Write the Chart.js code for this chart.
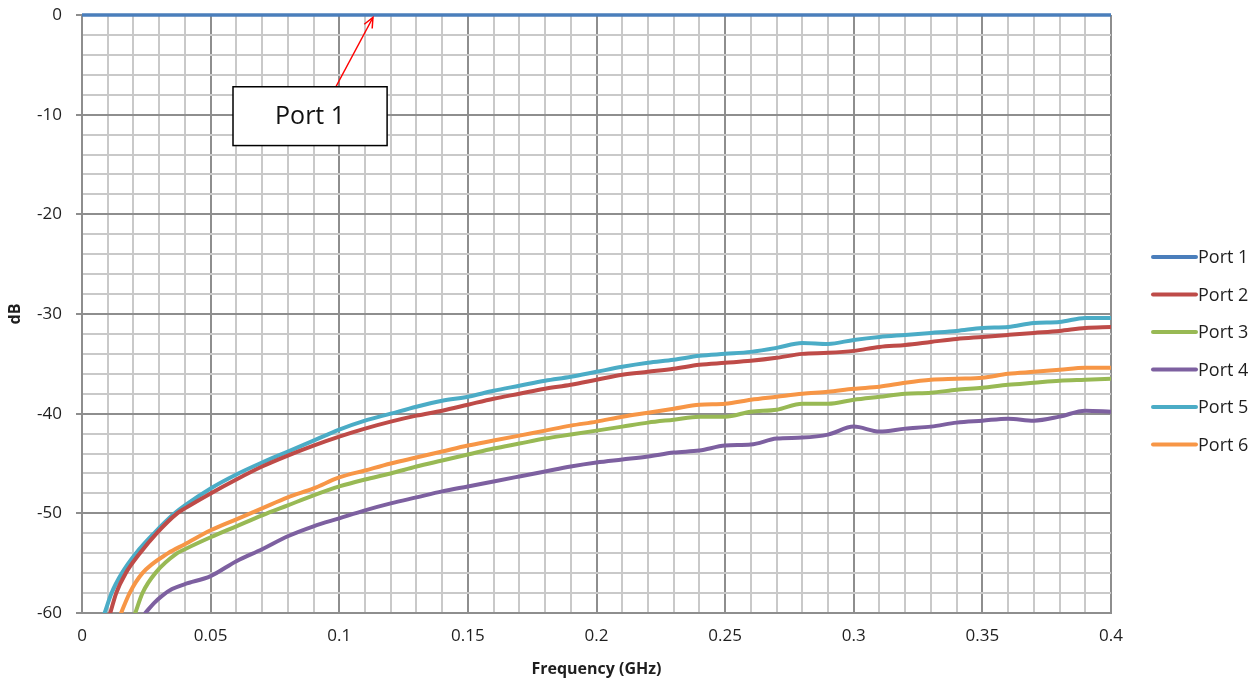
<!DOCTYPE html>
<html>
<head>
<meta charset="utf-8">
<script src="https://cdn.jsdelivr.net/npm/chart.js@4.4.1/dist/chart.umd.min.js"></script>
<style>
html,body{margin:0;padding:0;background:#ffffff;}
#wrap{width:1254px;height:682px;position:relative;}
</style>
</head>
<body>
<div id="wrap"><canvas id="c" width="1254" height="682"></canvas></div>
<script>
// ---------------- DATA ----------------
const seriesNames  = ['Port 1', 'Port 2', 'Port 3', 'Port 4', 'Port 5', 'Port 6'];
const seriesColors = ['#4A7EBB', '#BE4B48', '#98B954', '#7D60A0', '#4BACC6', '#F79646'];

// shared frequency grid (GHz) from 0.04 to 0.40
const freqGHz = [0.04, 0.05, 0.06, 0.07, 0.08, 0.09, 0.10, 0.11, 0.12, 0.13,
                 0.14, 0.15, 0.16, 0.17, 0.18, 0.19, 0.20, 0.21, 0.22, 0.23,
                 0.24, 0.25, 0.26, 0.27, 0.28, 0.29, 0.30, 0.31, 0.32, 0.33,
                 0.34, 0.35, 0.36, 0.37, 0.38, 0.39, 0.40];

// Port 1 (flat at 0 dB)
const port1Freq = [0, 0.40];
const port1Db   = [0, 0];

// Port 2
const port2StartFreq = [0.011, 0.0133, 0.017, 0.0225, 0.029, 0.037];
const port2StartDb   = [-60, -58, -56, -54, -52, -50];
const port2Db = [-49.5, -48.0, -46.6, -45.3, -44.2, -43.2, -42.3, -41.5, -40.8, -40.2,
                 -39.7, -39.1, -38.5, -38.0, -37.5, -37.1, -36.6, -36.1, -35.8, -35.5,
                 -35.1, -34.9, -34.7, -34.4, -34.0, -33.9, -33.7, -33.3, -33.1, -32.8,
                 -32.5, -32.3, -32.1, -31.9, -31.7, -31.4, -31.3];

// Port 3
const port3StartFreq = [0.0207, 0.0235, 0.0285, 0.037];
const port3StartDb   = [-60, -58, -56, -54];
const port3Db = [-53.6, -52.4, -51.3, -50.2, -49.2, -48.2, -47.3, -46.6, -46.0, -45.3,
                 -44.7, -44.1, -43.5, -43.0, -42.5, -42.1, -41.7, -41.3, -40.9, -40.6,
                 -40.3, -40.3, -39.8, -39.6, -39.0, -39.0, -38.6, -38.3, -38.0, -37.9,
                 -37.6, -37.4, -37.1, -36.9, -36.7, -36.6, -36.5];

// Port 4
const port4StartFreq = [0.0246, 0.028, 0.031, 0.035];
const port4StartDb   = [-60, -59, -58.3, -57.6];
const port4Db = [-57.1, -56.3, -54.8, -53.6, -52.3, -51.3, -50.5, -49.7, -49.0, -48.4,
                 -47.8, -47.3, -46.8, -46.3, -45.8, -45.3, -44.9, -44.6, -44.3, -43.9,
                 -43.7, -43.2, -43.1, -42.5, -42.4, -42.1, -41.3, -41.8, -41.5, -41.3,
                 -40.9, -40.7, -40.5, -40.7, -40.3, -39.7, -39.8];

// Port 5
const port5StartFreq = [0.0088, 0.0115, 0.0155, 0.021, 0.028, 0.036];
const port5StartDb   = [-60, -58, -56, -54, -52, -50];
const port5Db = [-49.2, -47.5, -46.1, -44.9, -43.8, -42.7, -41.6, -40.7, -40.0, -39.3,
                 -38.7, -38.3, -37.7, -37.2, -36.7, -36.3, -35.8, -35.3, -34.9, -34.6,
                 -34.2, -34.0, -33.8, -33.4, -32.9, -33.0, -32.6, -32.3, -32.1, -31.9,
                 -31.7, -31.4, -31.3, -30.9, -30.8, -30.4, -30.4];

// Port 6
const port6StartFreq = [0.0152, 0.0185, 0.0235, 0.0335];
const port6StartDb   = [-60, -58, -56, -54];
const port6Db = [-53.1, -51.7, -50.6, -49.5, -48.4, -47.5, -46.4, -45.7, -45.0, -44.4,
                 -43.8, -43.2, -42.7, -42.2, -41.7, -41.2, -40.8, -40.3, -39.9, -39.5,
                 -39.1, -39.0, -38.6, -38.3, -38.0, -37.8, -37.5, -37.3, -36.9, -36.6,
                 -36.5, -36.4, -36.0, -35.8, -35.6, -35.4, -35.4];

// axis ticks
const xMajorStep = 0.05, xMinorStep = 0.01, xMin = 0, xMax = 0.4;
const yMajorStep = 10,   yMinorStep = 2,    yMin = -60, yMax = 0;

// callout (in data coordinates)
const calloutText = 'Port 1';
const calloutBox = { fLeft: 0.0587, fRight: 0.1186, dbTop: -7.2, dbBottom: -13.1 };
const calloutArrow = { fFrom: 0.0987, dbFrom: -7.2, fTo: 0.1131, dbTo: -0.25 };

// ---------------- BUILD ----------------
function pts(fs, ds) { return fs.map((f, i) => ({ x: f, y: ds[i] })); }
const seriesPoints = [
  pts(port1Freq, port1Db),
  pts(port2StartFreq, port2StartDb).concat(pts(freqGHz, port2Db)),
  pts(port3StartFreq, port3StartDb).concat(pts(freqGHz, port3Db)),
  pts(port4StartFreq, port4StartDb).concat(pts(freqGHz, port4Db)),
  pts(port5StartFreq, port5StartDb).concat(pts(freqGHz, port5Db)),
  pts(port6StartFreq, port6StartDb).concat(pts(freqGHz, port6Db))
];

const FONT = "'Open Sans', 'DejaVu Sans', sans-serif";
Chart.defaults.font.family = FONT;
Chart.defaults.color = '#1e1e1e';

const isMult = (v, s) => Math.abs(v / s - Math.round(v / s)) < 1e-6;
const MAJOR = '#8e8e8e', MINOR = '#c9c9c9';

const datasets = seriesNames.map((name, i) => ({
  label: name,
  data: seriesPoints[i],
  borderColor: seriesColors[i],
  backgroundColor: seriesColors[i],
  borderWidth: i === 0 ? 3.5 : 4,
  pointRadius: 0,
  pointHoverRadius: 0,
  cubicInterpolationMode: 'monotone',
  borderCapStyle: 'round',
  borderJoinStyle: 'round',
  clip: i === 0 ? { left: 0, top: 6, right: 0, bottom: 0 } : undefined,
  order: i === 0 ? 10 : i
}));

const calloutPlugin = {
  id: 'callout',
  afterDraw(chart) {
    const { ctx, scales: { x, y } } = chart;
    const x1 = x.getPixelForValue(calloutArrow.fFrom), y1 = y.getPixelForValue(calloutArrow.dbFrom);
    const x2 = x.getPixelForValue(calloutArrow.fTo),   y2 = y.getPixelForValue(calloutArrow.dbTo);
    ctx.save();
    ctx.strokeStyle = '#ff0000';
    ctx.lineWidth = 1.5;
    ctx.beginPath(); ctx.moveTo(x1, y1); ctx.lineTo(x2, y2); ctx.stroke();
    const ang = Math.atan2(y2 - y1, x2 - x1), hl = 11, ha = 0.42;
    ctx.beginPath();
    ctx.moveTo(x2 - hl * Math.cos(ang - ha), y2 - hl * Math.sin(ang - ha));
    ctx.lineTo(x2, y2);
    ctx.lineTo(x2 - hl * Math.cos(ang + ha), y2 - hl * Math.sin(ang + ha));
    ctx.stroke();
    const bl = x.getPixelForValue(calloutBox.fLeft), br = x.getPixelForValue(calloutBox.fRight);
    const bt = y.getPixelForValue(calloutBox.dbTop), bb = y.getPixelForValue(calloutBox.dbBottom);
    ctx.fillStyle = '#ffffff';
    ctx.fillRect(bl, bt, br - bl, bb - bt);
    ctx.strokeStyle = '#000000';
    ctx.lineWidth = 1.5;
    ctx.strokeRect(bl, bt, br - bl, bb - bt);
    ctx.fillStyle = '#111111';
    ctx.font = "25px " + FONT;
    ctx.textAlign = 'center';
    ctx.textBaseline = 'middle';
    ctx.fillText(calloutText, (bl + br) / 2, (bt + bb) / 2 + 1);
    ctx.restore();
  }
};

const legendPlugin = {
  id: 'sideLegend',
  afterDraw(chart) {
    const { ctx, chartArea } = chart;
    const lx1 = chartArea.right + 42, lx2 = lx1 + 43, tx = lx2 + 2;
    const y0 = 257, dy = 37.5;
    ctx.save();
    ctx.font = "18px " + FONT;
    ctx.textAlign = 'left';
    ctx.textBaseline = 'middle';
    seriesNames.forEach((name, i) => {
      const yy = y0 + i * dy;
      ctx.strokeStyle = seriesColors[i];
      ctx.lineWidth = 4;
      ctx.lineCap = 'round';
      ctx.beginPath(); ctx.moveTo(lx1, yy); ctx.lineTo(lx2, yy); ctx.stroke();
      ctx.fillStyle = '#1e1e1e';
      ctx.fillText(name, tx, yy + 1);
    });
    ctx.restore();
  }
};

new Chart(document.getElementById('c'), {
  type: 'line',
  data: { datasets },
  options: {
    responsive: false,
    animation: false,
    events: [],
    layout: { padding: { left: 0, top: 15, right: 143, bottom: 0 } },
    plugins: { legend: { display: false }, tooltip: { enabled: false } },
    scales: {
      x: {
        type: 'linear',
        min: xMin, max: xMax,
        afterFit(s) { s.height = 69; s.paddingLeft = 0; s.paddingRight = 0; },
        ticks: {
          stepSize: xMinorStep,
          autoSkip: false,
          maxRotation: 0,
          padding: 13,
          font: { size: 17 },
          color: '#1e1e1e',
          callback: v => isMult(v, xMajorStep) ? String(Number(v.toFixed(2))) : ''
        },
        grid: {
          drawTicks: false,
          color: c => isMult(c.tick.value, xMajorStep) ? MAJOR : MINOR,
          lineWidth: 2
        },
        border: { color: MAJOR, width: 2 },
        title: {
          display: true, text: 'Frequency (GHz)',
          font: { size: 16, weight: 'bold' }, color: '#1e1e1e',
          padding: { top: 0, bottom: 3 }
        }
      },
      y: {
        type: 'linear',
        min: yMin, max: yMax,
        afterFit(s) { s.width = 82; s.paddingTop = 0; s.paddingBottom = 0; },
        ticks: {
          stepSize: yMinorStep,
          autoSkip: false,
          padding: 14,
          font: { size: 17 },
          color: '#1e1e1e',
          callback: v => isMult(v, yMajorStep) ? String(v) : ''
        },
        grid: {
          tickLength: 6,
          color: c => isMult(c.tick.value, yMajorStep) ? MAJOR : MINOR,
          tickColor: c => isMult(c.tick.value, yMajorStep) ? MAJOR : 'rgba(0,0,0,0)',
          lineWidth: 2
        },
        border: { color: MAJOR, width: 2 },
        title: {
          display: true, text: 'dB',
          font: { size: 16, weight: 'bold' }, color: '#1e1e1e',
          padding: { top: 6, bottom: 0 }
        }
      }
    }
  },
  plugins: [calloutPlugin, legendPlugin]
});
</script>
</body>
</html>
